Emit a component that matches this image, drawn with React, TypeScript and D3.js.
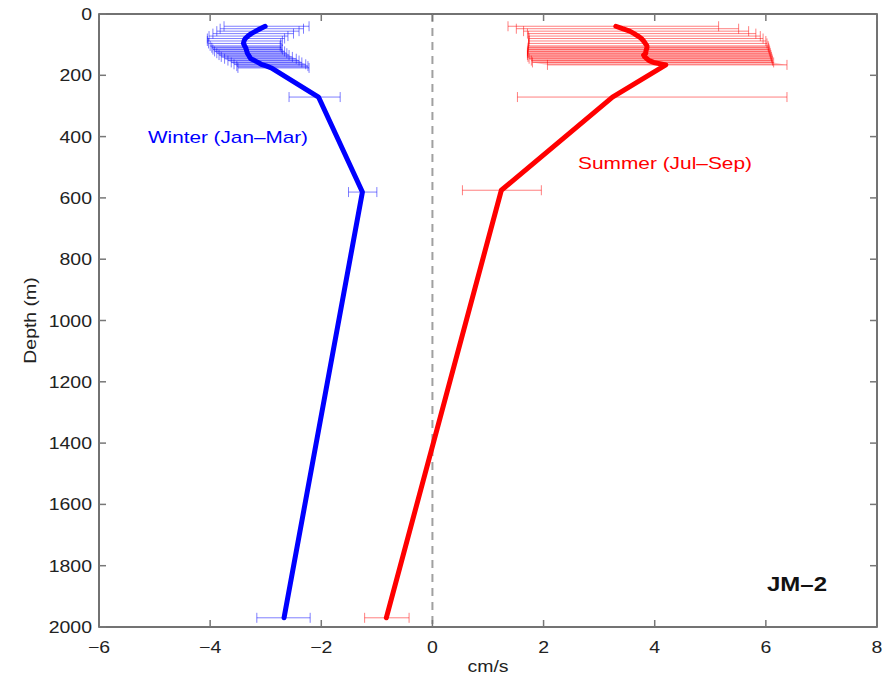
import React from "react";
import * as d3 from "d3";

// ---- data ----
const xTicks = [-6, -4, -2, 0, 2, 4, 6, 8];
const yTicks = [0, 200, 400, 600, 800, 1000, 1200, 1400, 1600, 1800, 2000];

const winterDepth = [40, 48, 56, 64, 72, 80, 88, 96, 104, 110, 116, 122, 128, 134, 140, 146, 152, 158, 164, 170, 176, 271, 581, 1970];
const winterMean = [-3.01, -3.1, -3.18, -3.26, -3.32, -3.37, -3.39, -3.4, -3.38, -3.36, -3.35, -3.34, -3.33, -3.31, -3.29, -3.27, -3.2, -3.14, -3.08, -2.98, -2.9, -2.05, -1.26, -2.67];
const winterLo = [-3.75, -3.82, -3.88, -3.95, -4.02, -4.05, -4.05, -4.03, -4.0, -3.97, -3.95, -3.92, -3.88, -3.84, -3.8, -3.74, -3.68, -3.62, -3.57, -3.52, -3.5, -2.58, -1.51, -3.16];
const winterHi = [-2.22, -2.32, -2.4, -2.5, -2.6, -2.66, -2.7, -2.73, -2.74, -2.72, -2.7, -2.66, -2.62, -2.58, -2.52, -2.45, -2.4, -2.35, -2.28, -2.24, -2.22, -1.66, -1.0, -2.2];

const summerDepth = [40, 48, 56, 64, 72, 80, 88, 96, 104, 110, 116, 122, 128, 134, 140, 146, 152, 158, 166, 271, 575, 1970];
const summerMean = [3.3, 3.42, 3.55, 3.63, 3.7, 3.76, 3.8, 3.83, 3.86, 3.86, 3.85, 3.84, 3.84, 3.8, 3.82, 3.86, 3.9, 3.98, 4.2, 3.24, 1.24, -0.83];
const summerLo = [1.36, 1.51, 1.64, 1.71, 1.73, 1.74, 1.74, 1.73, 1.73, 1.72, 1.72, 1.71, 1.71, 1.71, 1.72, 1.74, 1.78, 1.8, 2.07, 1.53, 0.54, -1.22];
const summerHi = [5.15, 5.51, 5.69, 5.82, 5.9, 5.95, 6.0, 6.02, 6.04, 6.05, 6.06, 6.07, 6.08, 6.09, 6.1, 6.11, 6.12, 6.14, 6.38, 6.38, 1.96, -0.42];

const W = 890;
const H = 679;
const left = 99, right = 877, top = 14, bottom = 627;

export default function App() {
  const x = d3.scaleLinear().domain([-6, 8]).range([left, right]);
  const y = d3.scaleLinear().domain([0, 2000]).range([top, bottom]);
  const line = d3
    .line<[number, number]>()
    .x((d) => x(d[0]))
    .y((d) => y(d[1]));
  const area = d3
    .area<{ d: number; lo: number; hi: number }>()
    .y((p) => y(p.d))
    .x0((p) => x(p.lo))
    .x1((p) => x(p.hi));

  const series = [
    { depth: winterDepth, mean: winterMean, lo: winterLo, hi: winterHi, color: "#0000ff" },
    { depth: summerDepth, mean: summerMean, lo: summerLo, hi: summerHi, color: "#ff0000" },
  ];

  const font = "'Liberation Sans', Arial, Helvetica, sans-serif";
  const tickFs = 16.5;
  const sx = 1.18;

  return (
    <svg width={W} height={H} style={{ position: "absolute", left: 0, top: 0, background: "#fff" }} fontFamily={font}>
      <rect x={0} y={0} width={W} height={H} fill="#fff" />
      {/* zero dashed line */}
      <line x1={x(0)} x2={x(0)} y1={y(0)} y2={y(2000)} stroke="#a0a0a0" strokeWidth={2} strokeDasharray="8,6" />

      {/* dense error-bar shading (overlapping bars) */}
      {series.map((s, si) => {
        const pts = s.depth
          .map((d, i) => ({ d, lo: s.lo[i], hi: s.hi[i] }))
          .filter((p) => p.d >= 104 && p.d < 200);
        return <path key={"ar" + si} d={area(pts) || ""} fill={s.color} fillOpacity={0.25} stroke="none" />;
      })}

      {/* error bars */}
      {series.map((s, si) => (
        <g key={"eb" + si} stroke={s.color} strokeOpacity={0.5} strokeWidth={1}>
          {s.depth.map((d, i) => (
            <g key={i}>
              <line x1={x(s.lo[i])} x2={x(s.hi[i])} y1={y(d)} y2={y(d)} />
              <line x1={x(s.lo[i])} x2={x(s.lo[i])} y1={y(d) - 5} y2={y(d) + 5} />
              <line x1={x(s.hi[i])} x2={x(s.hi[i])} y1={y(d) - 5} y2={y(d) + 5} />
            </g>
          ))}
        </g>
      ))}

      {/* mean lines */}
      {series.map((s, si) => (
        <path
          key={"ln" + si}
          d={line(s.depth.map((d, i) => [s.mean[i], d] as [number, number])) || ""}
          fill="none"
          stroke={s.color}
          strokeWidth={5}
          strokeLinejoin="round"
          strokeLinecap="round"
        />
      ))}

      {/* frame */}
      <rect x={left} y={top} width={right - left} height={bottom - top} fill="none" stroke="#444" strokeWidth={1.5} />
      {xTicks.map((t) => (
        <g key={"xt" + t}>
          <line x1={x(t)} x2={x(t)} y1={bottom} y2={bottom - 7} stroke="#777" strokeWidth={1.5} />
          <line x1={x(t)} x2={x(t)} y1={top} y2={top + 7} stroke="#777" strokeWidth={1.5} />
          <text
            transform={`translate(${x(t)},${bottom + 26}) scale(${sx},1)`}
            textAnchor="middle"
            fontSize={tickFs}
            fill="#222"
          >
            {t < 0 ? "\u2212" + Math.abs(t) : String(t)}
          </text>
        </g>
      ))}
      {yTicks.map((t) => (
        <g key={"yt" + t}>
          <line x1={left} x2={left + 7} y1={y(t)} y2={y(t)} stroke="#777" strokeWidth={1.5} />
          <line x1={right} x2={right - 7} y1={y(t)} y2={y(t)} stroke="#777" strokeWidth={1.5} />
          <text
            transform={`translate(${left - 7},${y(t) + 6}) scale(${sx},1)`}
            textAnchor="end"
            fontSize={tickFs}
            fill="#222"
          >
            {String(t)}
          </text>
        </g>
      ))}

      {/* axis labels */}
      <text transform={`translate(${(left + right) / 2},${672}) scale(${sx},1)`} textAnchor="middle" fontSize={tickFs} fill="#222">
        cm/s
      </text>
      <text transform={`translate(36,${(top + bottom) / 2}) rotate(-90) scale(${sx},1)`} textAnchor="middle" fontSize={tickFs} fill="#222">
        Depth (m)
      </text>

      {/* annotations */}
      <text x={148} y={143} fontSize={17} fill="#0000ff" textLength={160} lengthAdjust="spacingAndGlyphs">
        Winter (Jan–Mar)
      </text>
      <text x={578} y={169} fontSize={17} fill="#ff0000" textLength={174} lengthAdjust="spacingAndGlyphs">
        Summer (Jul–Sep)
      </text>
      <text x={767} y={591} fontSize={21} fontWeight="bold" fill="#111" textLength={60} lengthAdjust="spacingAndGlyphs">
        JM–2
      </text>
    </svg>
  );
}
